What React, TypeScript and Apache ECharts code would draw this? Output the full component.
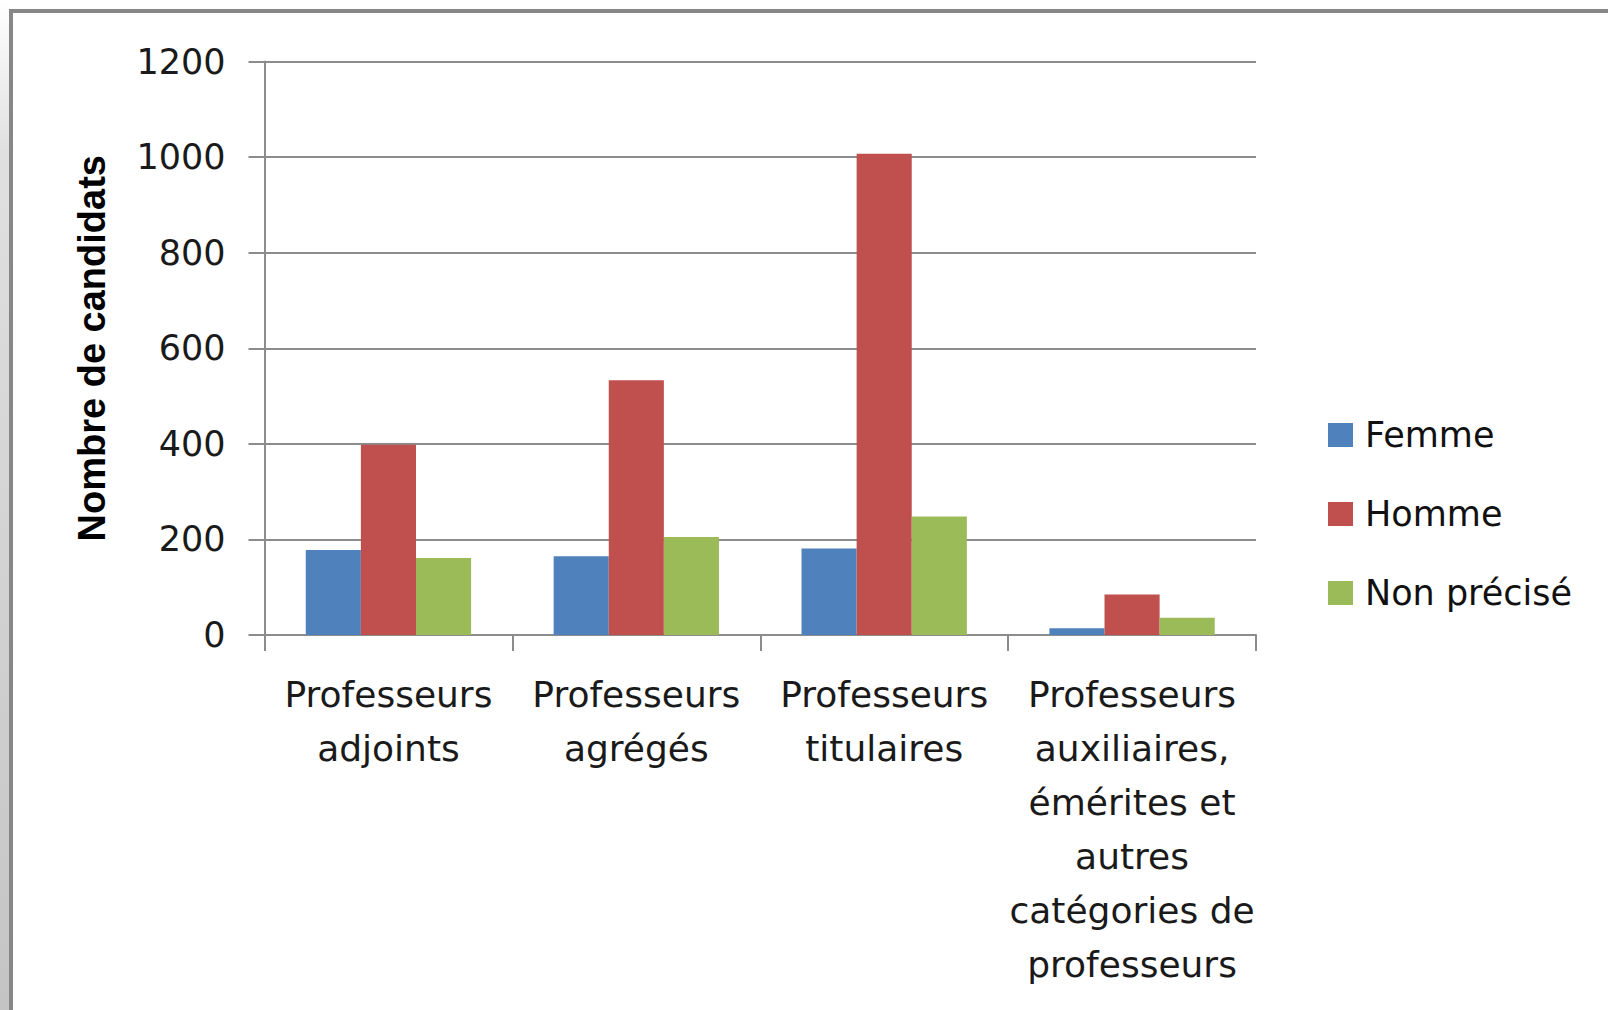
import React, { useEffect, useRef } from "react";
import * as echarts from "echarts";

const categories = [
  "Professeurs\nadjoints",
  "Professeurs\nagrégés",
  "Professeurs\ntitulaires",
  "Professeurs\nauxiliaires,\némérites et\nautres\ncatégories de\nprofesseurs",
];
const femme = [178, 165, 181, 14];
const homme = [398, 533, 1007, 85];
const nonPrecise = [161, 205, 248, 36];
const yTicks = { min: 0, max: 1200, interval: 200 };

const FONT = "DejaVu Sans";
const GRID = "#8c8c8c";

export default function App() {
  const ref = useRef<HTMLDivElement>(null);
  useEffect(() => {
    if (!ref.current) return;
    const chart = echarts.init(ref.current, undefined, { renderer: "svg" });
    chart.setOption({
      animation: false,
      backgroundColor: "#ffffff",
      graphic: [
        {
          type: "rect",
          shape: { x: 0, y: 0, width: 9, height: 1010 },
          style: {
            fill: new echarts.graphic.LinearGradient(0, 0, 0, 1, [
              { offset: 0, color: "#ffffff" },
              { offset: 0.15, color: "#e0e0e0" },
              { offset: 1, color: "#c4c4c4" },
            ]),
          },
          silent: true,
        },
        {
          type: "rect",
          shape: { x: 9, y: 9, width: 4, height: 1001 },
          style: { fill: "#878787" },
          silent: true,
        },
        {
          type: "rect",
          shape: { x: 9, y: 9, width: 1599, height: 4 },
          style: { fill: "#878787" },
          silent: true,
        },
      ],
      color: ["#4f81bd", "#c0504d", "#9bbb59"],
      grid: { left: 264.5, right: 352, top: 61.5, bottom: 375, containLabel: false },
      legend: {
        orient: "vertical",
        left: 1323,
        top: 410,
        itemWidth: 25,
        itemHeight: 24,
        itemGap: 39,
        icon: "rect",
        textStyle: {
          fontFamily: FONT,
          fontSize: 35,
          color: "#111111",
          lineHeight: 40,
          padding: [0, 0, 0, 7],
        },
        data: ["Femme", "Homme", "Non précisé"],
      },
      xAxis: {
        type: "category",
        data: categories,
        axisLine: { show: true, lineStyle: { color: GRID, width: 2 } },
        axisTick: { show: true, length: 16, lineStyle: { color: GRID, width: 2 } },
        axisLabel: {
          interval: 0,
          margin: 32,
          fontFamily: FONT,
          fontSize: 36,
          lineHeight: 54,
          color: "#1a1a1a",
          align: "center",
        },
      },
      yAxis: {
        type: "value",
        min: yTicks.min,
        max: yTicks.max,
        interval: yTicks.interval,
        name: "Nombre de candidats",
        nameLocation: "middle",
        nameGap: 154,
        nameRotate: 90,
        nameTextStyle: {
          fontFamily: "Liberation Sans",
          fontWeight: "bold",
          fontSize: 38,
          color: "#000000",
        },
        axisLine: { show: true, lineStyle: { color: GRID, width: 2 } },
        axisTick: { show: true, length: 16, lineStyle: { color: GRID, width: 2 } },
        splitLine: { show: true, lineStyle: { color: GRID, width: 2 } },
        axisLabel: {
          margin: 39,
          fontFamily: FONT,
          fontSize: 35,
          color: "#1a1a1a",
          formatter: (v: number) => String(v),
        },
      },
      series: [
        { name: "Femme", type: "bar", data: femme, barGap: "0%", barCategoryGap: "33.3%" },
        { name: "Homme", type: "bar", data: homme, barGap: "0%", barCategoryGap: "33.3%" },
        { name: "Non précisé", type: "bar", data: nonPrecise, barGap: "0%", barCategoryGap: "33.3%" },
      ],
    });
    return () => chart.dispose();
  }, []);
  return (
    <div
      ref={ref}
      style={{ position: "absolute", left: 0, top: 0, width: 1608, height: 1010 }}
    />
  );
}
